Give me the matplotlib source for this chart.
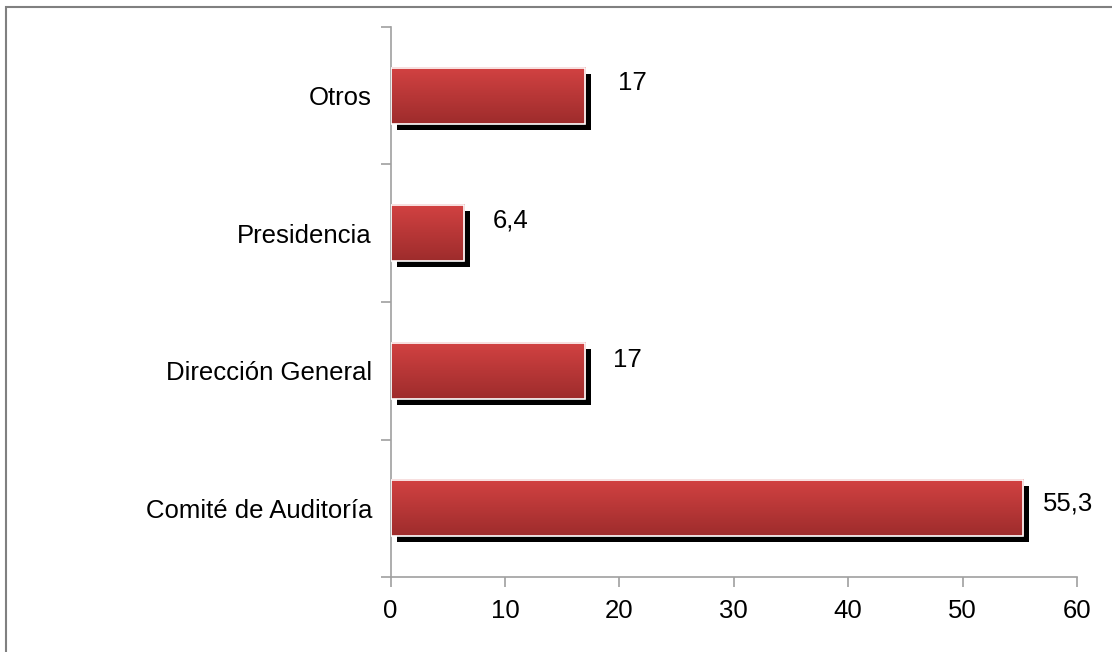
import numpy as np
import matplotlib.pyplot as plt
from matplotlib.colors import LinearSegmentedColormap
from matplotlib.patches import Rectangle

categorias = ["Comité de Auditoría", "Dirección General", "Presidencia", "Otros"]
valores = [55.3, 17, 6.4, 17]
etiquetas = ["55,3", "17", "6,4", "17"]
# desplazamiento de las etiquetas (px)
offx = [20, 28, 29, 33]
offy = [5, 11, 13, 13]

plt.rcParams['font.family'] = ['Liberation Sans', 'DejaVu Sans']

fig = plt.figure(figsize=(11.12, 6.52), dpi=100)
ax = fig.add_axes([0.3513, 0.1150, 0.9685 - 0.3513, 0.9586 - 0.1150])

# marco de la figura
fig.patches.append(Rectangle((6 / 1112, -0.1), 1.2, (652 - 7) / 652 + 0.1,
                             transform=fig.transFigure, fill=False,
                             edgecolor='#808080', linewidth=1.5))

cmap = LinearSegmentedColormap.from_list('rojo', ['#d24242', '#9e2c2c'])
grad = np.linspace(0, 1, 64).reshape(-1, 1)
alto = 0.41
px = 60 / 686.3  # unidades de datos por pixel en x
py = 4 / 550  # unidades de datos por pixel en y
fs = 18.5

for i, (v, et) in enumerate(zip(valores, etiquetas)):
    # sombra
    ax.add_patch(Rectangle((6 * px, i - alto / 2 - 6 * py), v, alto,
                           facecolor='black', edgecolor='none', zorder=1))
    # barra con degradado
    ax.imshow(grad, cmap=cmap, aspect='auto', zorder=2,
              extent=[0, v, i - alto / 2, i + alto / 2], origin='upper')
    ax.add_patch(Rectangle((0, i - alto / 2), v, alto, fill=False,
                           edgecolor='white', linewidth=1.2, zorder=3))
    ax.annotate(et, (v, i), xytext=(offx[i] * 0.72, offy[i] * 0.72),
                textcoords='offset points', fontsize=fs, va='center', ha='left')

ax.set_xlim(0, 60)
ax.set_ylim(-0.5, 3.5)
ax.set_xticks(range(0, 61, 10))
ax.set_yticks([i - 0.5 for i in range(5)], minor=False)
ax.set_yticklabels([])
ax.set_yticks(range(4), minor=True)
ax.set_yticklabels(categorias, minor=True)
ax.tick_params(axis='y', which='minor', length=0, labelsize=fs, pad=13.5)
ax.tick_params(axis='y', which='major', length=7, color='#a0a0a0', width=1.2)
ax.tick_params(axis='x', length=7, color='#a0a0a0', width=1.2, labelsize=fs, pad=9)
for s in ['top', 'right']:
    ax.spines[s].set_visible(False)
for s in ['left', 'bottom']:
    ax.spines[s].set_color('#a0a0a0')
    ax.spines[s].set_linewidth(1.2)

fig.savefig('out.png', dpi=100)
